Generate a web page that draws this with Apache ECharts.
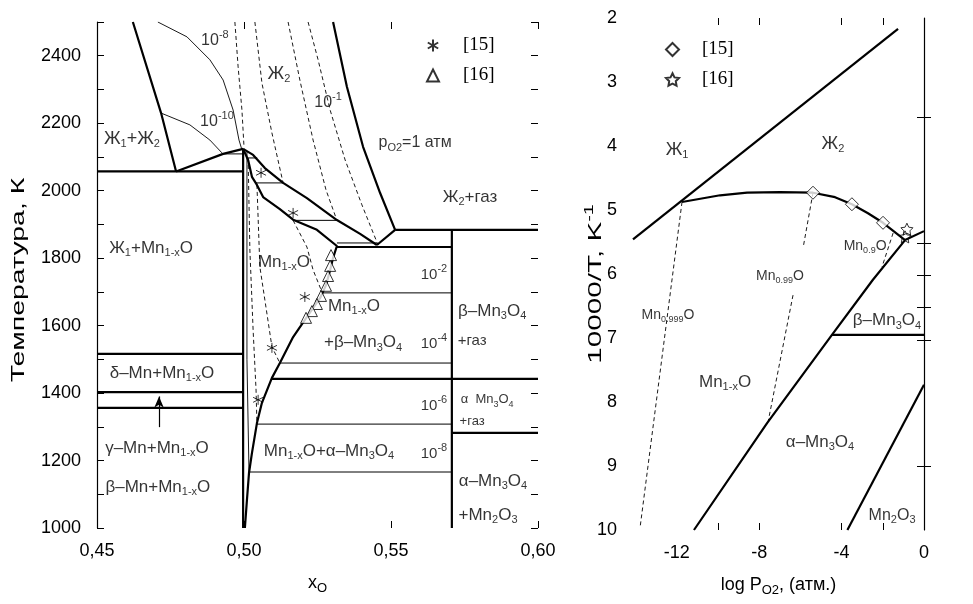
<!DOCTYPE html>
<html><head><meta charset="utf-8">
<script src="https://cdn.jsdelivr.net/npm/echarts@6/dist/echarts.min.js"></script>
<style>html,body{margin:0;padding:0;background:#fff}#c{width:973px;height:604px}</style>
</head><body><div id="c"></div><script>
// ===== Left panel: x_O vs T (K) =====
const leftXLabels = [0.45, 0.50, 0.55, 0.60];
const leftYLabels = [1000, 1200, 1400, 1600, 1800, 2000, 2200, 2400];
// thick boundaries
const missGap   = [[0.4622,2500],[0.4718,2230],[0.4769,2057]];
const liqL1     = [[0.4769,2057],[0.4929,2109],[0.4997,2124]];
const mnoLeft   = [[0.4997,2124],[0.4997,1000]];
const liqL2     = [[0.4997,2124],[0.5031,2106],[0.5071,2067],[0.5133,2023],[0.5214,1978],[0.5316,1913],[0.5395,1872],[0.5452,1839]];
const mnoRight  = [[0.4997,2124],[0.5014,2091],[0.5027,2041],[0.5044,2017],[0.5065,1981],[0.5122,1945],[0.5167,1914],[0.5248,1884],[0.5316,1836],[0.5303,1801],[0.5293,1765],[0.5279,1720],[0.5259,1682],[0.5214,1626],[0.5167,1566],[0.5122,1489],[0.5095,1445],[0.5061,1371],[0.5044,1311],[0.5027,1222],[0.5017,1163],[0.5010,1083],[0.5003,1000]];
const gasBound  = [[0.5303,2500],[0.5350,2308],[0.5405,2130],[0.5463,1993],[0.5514,1884]];
const eutLink   = [[0.5452,1839],[0.5514,1884]];
const mn3o4Left = [[0.5707,1884],[0.5707,1000]];
// thick horizontals [x1, x2, T]
const thickFlats = [[0.45,0.4997,2057],[0.5514,0.60,1884],[0.5316,0.5707,1833],[0.5095,0.60,1442],[0.5707,0.60,1282],[0.45,0.4997,1516],[0.45,0.4997,1403],[0.45,0.4997,1356]];
// thin tie lines [x1, x2, T]
const tieLines = [[0.4929,0.4997,2109],[0.5012,0.5045,2097],[0.5040,0.5133,2023],[0.5167,0.5316,1912],[0.5316,0.5452,1845],[0.5268,0.5707,1697],[0.5122,0.5707,1489],[0.5044,0.5707,1308],[0.5017,0.5707,1166]];
// thin solid isobars
const iso10m10 = [[0.4718,2230],[0.4816,2195],[0.4884,2150],[0.4925,2112]];
const iso10m8  = [[0.4707,2500],[0.4806,2456],[0.4884,2388],[0.4929,2328],[0.4963,2239],[0.4983,2150],[0.4993,2121]];
const iso10m8s = [[0.5010,2115],[0.5010,1500],[0.5017,1166]];
// dashed isobars
const iso10m6L = [[0.4969,2500],[0.4980,2367],[0.4993,2239],[0.5000,2130]];
const iso10m6s = [[0.5014,2097],[0.5020,1824],[0.5031,1587],[0.5041,1409],[0.5044,1308]];
const iso10m4L = [[0.5037,2500],[0.5061,2319],[0.5095,2171],[0.5133,2023]];
const iso10m4s = [[0.5044,2017],[0.5054,1774],[0.5071,1676],[0.5095,1537],[0.5122,1489]];
const iso10m2L = [[0.5150,2500],[0.5190,2328],[0.5235,2150],[0.5279,2002],[0.5316,1912]];
const iso10m2s = [[0.5167,1912],[0.5214,1833],[0.5235,1765],[0.5265,1700]];
const iso10m1L = [[0.5218,2500],[0.5252,2388],[0.5293,2239],[0.5344,2091],[0.5401,1958],[0.5456,1839]];
const arrowL   = [[0.4711,1299],[0.4711,1390]];
// experimental points
const ref15L = [[0.5058,2053],[0.5167,1934],[0.5207,1685],[0.5095,1534],[0.5048,1380]];
const ref16L = [[0.5296,1809],[0.5293,1777],[0.5286,1747],[0.5279,1718],[0.5262,1688],[0.5248,1664],[0.5231,1643],[0.5211,1623]];

// ===== Right panel: log pO2 vs 10000/T =====
const rightXLabels = [-12, -8, -4, 0];
const rightXTicks  = [-10, -8, -4, -2];
const rightYTicks  = [3.55, 5.52, 6.02, 6.52, 7.03, 9.0];
const l1l2      = [[-14.13,5.46],[-1.26,2.17]];
const liqR      = [[-11.75,4.875],[-9.90,4.77],[-8.59,4.73],[-6.99,4.72],[-5.39,4.73],[-4.32,4.80],[-3.50,4.91],[-2.72,5.05],[-1.99,5.20],[-0.92,5.47]];
const l2gas     = [[-0.92,5.47],[0,5.33]];
const mnoMn3o4  = [[-0.92,5.47],[-2.48,6.09],[-4.47,6.95],[-7.62,8.33],[-11.17,10]];
const betaAlphaR= [[-4.47,6.95],[0,6.95]];
const mn2o3R    = [[0,7.73],[-3.72,10]];
const comp999   = [[-11.75,4.875],[-13.79,9.97]];
const comp99a   = [[-5.39,4.73],[-5.87,5.59]];
const comp99b   = [[-6.36,6.33],[-7.57,8.31]];
const comp9     = [[-1.50,5.36],[-2.04,5.89]];
const ref15R = [[-5.39,4.73],[-3.50,4.91],[-1.99,5.20]];
const ref16R = [[-0.83,5.30],[-0.92,5.42]];

// text annotations [text, x, y, fontSize]
const leftNotes = [
 ['10{sup|-8}', 0.4901, 2445, 16],
 ['10{sup|-10}', 0.4908, 2204, 16],
 ['Ж{sub|2}', 0.5119, 2346, 18],
 ['10{sup|-1}', 0.5286, 2260, 16],
 ['p{sub|O2}=1 атм', 0.5582, 2142, 16],
 ['Ж{sub|2}+газ', 0.5769, 1981, 17],
 ['Ж{sub|1}+Ж{sub|2}', 0.4619, 2153, 18],
 ['Ж{sub|1}+Mn{sub|1-x}O', 0.4684, 1830, 17],
 ['Mn{sub|1-x}O', 0.5136, 1789, 17],
 ['Mn{sub|1-x}O', 0.5374, 1658, 17],
 ['+β–Mn{sub|3}O{sub|4}', 0.5405, 1549, 17],
 ['10{sup|-2}', 0.5646, 1750, 15],
 ['10{sup|-4}', 0.5646, 1546, 15],
 ['10{sup|-6}', 0.5646, 1362, 15],
 ['10{sup|-8}', 0.5646, 1219, 15],
 ['β–Mn{sub|3}O{sub|4}', 0.5844, 1643, 17],
 ['+газ', 0.5776, 1554, 15],
 ['α  Mn{sub|3}O{sub|4}', 0.5827, 1380, 13],
 ['+газ', 0.5776, 1317, 13],
 ['α–Mn{sub|3}O{sub|4}', 0.5847, 1139, 17],
 ['+Mn{sub|2}O{sub|3}', 0.5830, 1039, 17],
 ['Mn{sub|1-x}O+α–Mn{sub|3}O{sub|4}', 0.5289, 1228, 17],
 ['δ–Mn+Mn{sub|1-x}O', 0.4721, 1460, 17],
 ['γ–Mn+Mn{sub|1-x}O', 0.4704, 1237, 17],
 ['β–Mn+Mn{sub|1-x}O', 0.4707, 1122, 17]
];
const rightNotes = [
 ['Ж{sub|1}', -11.99, 4.06, 18],
 ['Ж{sub|2}', -4.42, 3.97, 18],
 ['Mn{subs|0.9}O', -2.86, 5.56, 14],
 ['Mn{subs|0.99}O', -6.99, 6.03, 14],
 ['Mn{subs|0.999}O', -12.43, 6.64, 14],
 ['β–Mn{sub|3}O{sub|4}', -1.80, 6.73, 17],
 ['Mn{sub|1-x}O', -9.66, 7.69, 17],
 ['α–Mn{sub|3}O{sub|4}', -5.05, 8.63, 17],
 ['Mn{sub|2}O{sub|3}', -1.55, 9.77, 16]
];
const leftYTitle = 'Температура, К';
const rightYTitle = '10000/T, K{sup2|-1}';

const FONT = '"Liberation Sans", Arial, sans-serif';
const SERIF = '"Liberation Serif", "Times New Roman", serif';
const rich = {
  sub:  {fontSize: 11, fontFamily: FONT, color: '#000', padding: [10,0,0,0]},
  subs: {fontSize: 9,  fontFamily: FONT, color: '#000', padding: [9,0,0,0]},
  sup:  {fontSize: 11, fontFamily: FONT, color: '#000', padding: [0,0,12,0]},
  sub2: {fontSize: 13, fontFamily: FONT, color: '#000', padding: [10,0,0,0]},
  sup2: {fontSize: 12, fontFamily: FONT, color: '#000', padding: [0,0,12,0]}
};
const ASTER = 'path://M5,0L5,10M0.67,2.5L9.33,7.5M0.67,7.5L9.33,2.5';
const STAR = 'path://M0,-10L2.9,-4L9.5,-3.1L4.8,1.5L5.9,8.1L0,5L-5.9,8.1L-4.8,1.5L-9.5,-3.1L-2.9,-4Z';

const series = [];
function addLine(data, panel, w, dashed) {
  series.push({type: 'line', xAxisIndex: panel * 2, yAxisIndex: panel * 2, data: data,
    symbol: 'none', showSymbol: false, silent: true, animation: false, z: dashed ? 2 : 3,
    lineStyle: {color: '#000', width: w, type: dashed ? [4, 3] : 'solid'}});
}
// left thick
[missGap, liqL1, mnoLeft, liqL2, mnoRight, gasBound, eutLink, mn3o4Left].forEach(d => addLine(d, 0, 2.2, false));
thickFlats.forEach(f => addLine([[f[0], f[2]], [f[1], f[2]]], 0, 2.2, false));
tieLines.forEach(f => addLine([[f[0], f[2]], [f[1], f[2]]], 0, 1, false));
[iso10m10, iso10m8, iso10m8s].forEach(d => addLine(d, 0, 0.9, false));
[iso10m6L, iso10m6s, iso10m4L, iso10m4s, iso10m2L, iso10m2s, iso10m1L].forEach(d => addLine(d, 0, 0.9, true));
// arrow (γ-Mn / δ-Mn)
series.push({type: 'line', xAxisIndex: 0, yAxisIndex: 0, data: arrowL, symbol: 'none', silent: true, animation: false,
  lineStyle: {opacity: 0},
  markLine: {silent: true, animation: false, symbol: ['none', 'arrow'], symbolSize: [7, 11], label: {show: false},
    lineStyle: {color: '#000', width: 1.2, type: 'solid'},
    data: [[{coord: arrowL[0]}, {coord: arrowL[1]}]]}});
// right
[l1l2, liqR, l2gas, mnoMn3o4, betaAlphaR, mn2o3R].forEach(d => addLine(d, 1, 2.2, false));
[comp999, comp99a, comp99b, comp9].forEach(d => addLine(d, 1, 0.9, true));

// points
series.push({name: '[15]', type: 'scatter', xAxisIndex: 0, yAxisIndex: 0, data: ref15L, symbol: ASTER, symbolSize: 10,
  itemStyle: {color: 'rgba(0,0,0,0)', borderColor: '#000', borderWidth: 1}, z: 5, animation: false});
series.push({name: '[16]', type: 'scatter', xAxisIndex: 0, yAxisIndex: 0, data: ref16L, symbol: 'triangle', symbolSize: 11,
  itemStyle: {color: '#fff', borderColor: '#000', borderWidth: 1}, z: 5, animation: false});
series.push({name: '[15] ', type: 'scatter', xAxisIndex: 2, yAxisIndex: 2, data: ref15R, symbol: 'diamond', symbolSize: 13,
  itemStyle: {color: '#fff', borderColor: '#000', borderWidth: 1}, z: 5, animation: false});
series.push({name: '[16] ', type: 'scatter', xAxisIndex: 2, yAxisIndex: 2, data: ref16R, symbol: STAR, symbolSize: 12,
  itemStyle: {color: 'rgba(0,0,0,0)', borderColor: '#000', borderWidth: 1}, z: 5, animation: false});

function notes(list, panel) {
  return {type: 'scatter', xAxisIndex: panel * 2, yAxisIndex: panel * 2, symbolSize: 0, silent: true, animation: false, z: 6,
    data: list.map(n => ({value: [n[1], n[2]], name: n[0],
      label: {fontSize: n[3], rich: n[3] <= 14 ? {sub: {fontSize: 9, fontFamily: FONT, color:'#000', padding: [9,0,0,0]}, subs: rich.subs, sup: rich.sup} : rich}})),
    label: {show: true, position: 'inside', formatter: p => p.name, color: '#000', fontFamily: FONT, rich: rich}};
}
series.push(notes(leftNotes, 0));
series.push(notes(rightNotes, 1));

const axisText = {color: '#000', fontFamily: FONT, fontSize: 18};
const option = {
  backgroundColor: '#fff',
  animation: false,
  grid: [
    {left: 97, right: 435, top: 22, bottom: 76},
    {left: 633, right: 49, top: 18, bottom: 74}
  ],
  graphic: [
    {type: 'text', x: 19, y: 280, rotation: Math.PI / 2, scaleX: 1.58, silent: true,
     style: {text: leftYTitle, fontFamily: FONT, fontSize: 18, fill: '#000', align: 'center', verticalAlign: 'middle'}},
    {type: 'text', x: 596, y: 284, rotation: Math.PI / 2, scaleX: 1.65, silent: true,
     style: {text: rightYTitle, fontFamily: FONT, fontSize: 18, fill: '#000', align: 'center', verticalAlign: 'middle', rich: rich}}
  ],
  legend: [
    {left: 421, top: 31, orient: 'vertical', itemGap: 11, itemWidth: 12, itemHeight: 12, selectedMode: false,
     data: [{name: '[15]', icon: ASTER}, {name: '[16]', icon: 'triangle'}],
     textStyle: {fontFamily: SERIF, fontSize: 19, color: '#000', padding: [0, 0, 0, 19]}},
    {left: 660, top: 35, orient: 'vertical', itemGap: 11, itemWidth: 13, itemHeight: 13, selectedMode: false,
     data: [{name: '[15] ', icon: 'diamond'}, {name: '[16] ', icon: STAR}],
     formatter: n => n.trim(),
     textStyle: {fontFamily: SERIF, fontSize: 19, color: '#000', padding: [0, 0, 0, 18]}}
  ],
  xAxis: [
    {gridIndex: 0, type: 'value', position: 'bottom', min: 0.45, max: 0.60, interval: 0.05,
     axisLine: {show: false}, splitLine: {show: false},
     axisTick: {show: true, inside: true, length: 7, lineStyle: {color: '#000'}},
     axisLabel: {...axisText, margin: 14, formatter: v => leftXLabels.some(t => Math.abs(t - v) < 1e-6) ? v.toFixed(2).replace('.', ',') : ''},
     name: 'x{sub2|O}', nameLocation: 'middle', nameGap: 44, nameTextStyle: {...axisText, rich: rich}},
    {gridIndex: 0, type: 'value', position: 'top', min: 0.45, max: 0.60, interval: 0.05,
     axisLine: {show: false}, splitLine: {show: false}, axisLabel: {show: false},
     axisTick: {show: true, inside: true, length: 7, lineStyle: {color: '#000'}}},
    {gridIndex: 1, type: 'value', position: 'bottom', min: -14.13, max: 0,
     axisLine: {show: false}, splitLine: {show: false},
     axisTick: {show: true, inside: true, length: 7, customValues: rightXTicks, lineStyle: {color: '#000'}},
     axisLabel: {...axisText, margin: 14, customValues: rightXLabels},
     name: 'log P{sub2|O2}, (атм.)', nameLocation: 'middle', nameGap: 44, nameTextStyle: {...axisText, rich: rich}},
    {gridIndex: 1, type: 'value', position: 'top', min: -14.13, max: 0,
     axisLine: {show: false}, splitLine: {show: false}, axisLabel: {show: false},
     axisTick: {show: true, inside: true, length: 7, customValues: rightXTicks, lineStyle: {color: '#000'}}}
  ],
  yAxis: [
    {gridIndex: 0, type: 'value', position: 'left', min: 1000, max: 2500, interval: 100,
     axisLine: {show: true, lineStyle: {color: '#000', width: 1.2}}, splitLine: {show: false},
     axisTick: {show: true, inside: true, length: 7, lineStyle: {color: '#000'}},
     axisLabel: {...axisText, margin: 16, formatter: v => leftYLabels.includes(v) ? String(v) : ''}},
    {gridIndex: 0, type: 'value', position: 'right', min: 1000, max: 2500, interval: 100,
     axisLine: {show: false}, splitLine: {show: false}, axisLabel: {show: false},
     axisTick: {show: true, inside: true, length: 7, lineStyle: {color: '#000'}}},
    {gridIndex: 1, type: 'value', position: 'left', inverse: true, min: 2, max: 10, interval: 1,
     axisLine: {show: true, lineStyle: {color: '#000', width: 1.2}}, splitLine: {show: false},
     axisTick: {show: true, inside: true, length: 7, customValues: rightYTicks, lineStyle: {color: '#000'}},
     axisLabel: {...axisText, margin: 16}},
    {gridIndex: 1, type: 'value', position: 'right', inverse: true, min: 2, max: 10,
     axisLine: {show: false}, splitLine: {show: false}, axisLabel: {show: false},
     axisTick: {show: true, inside: true, length: 7, customValues: rightYTicks, lineStyle: {color: '#000'}}}
  ],
  series: series
};
const chart = echarts.init(document.getElementById('c'), null, {renderer: 'canvas'});
chart.setOption(option);
</script></body></html>
